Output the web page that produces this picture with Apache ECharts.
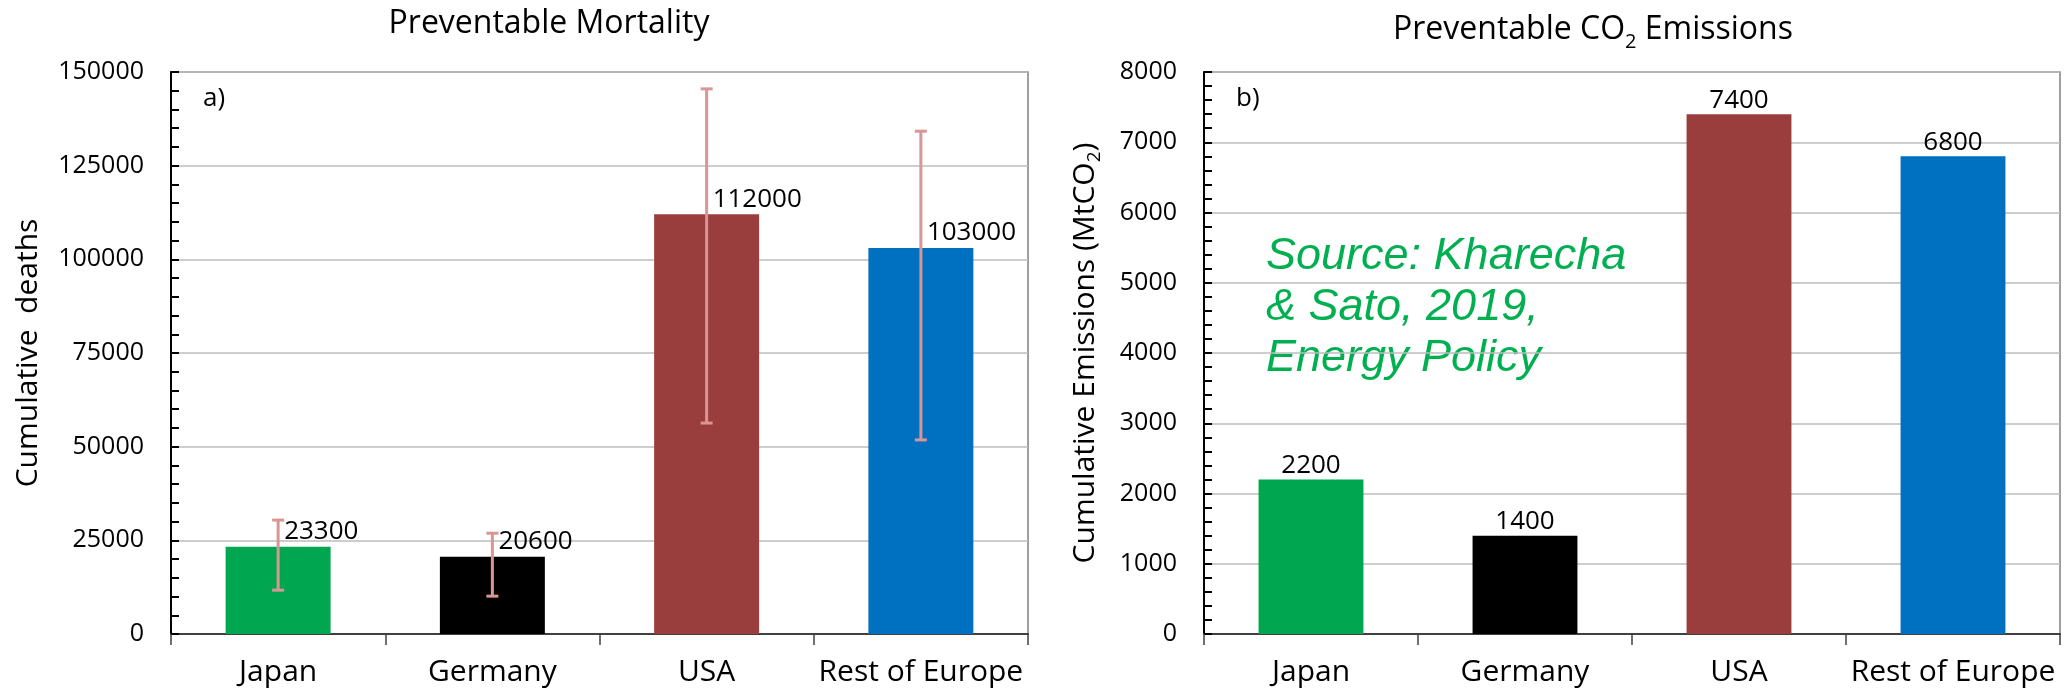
<!DOCTYPE html>
<html>
<head>
<meta charset="utf-8">
<script src="https://cdn.jsdelivr.net/npm/echarts@6/dist/echarts.min.js"></script>
<style>
  html, body { margin: 0; padding: 0; background: #fff; }
  #chart { width: 2066px; height: 693px; }
</style>
</head>
<body>
<div id="chart"></div>
<script>
// data
var categories = ["Japan", "Germany", "USA", "Rest of Europe"];
var mortality = [23300, 20600, 112000, 103000];
var mortalityLow = [11700, 10100, 56300, 51800];
var mortalityHigh = [30400, 26900, 145500, 134200];
var emissions = [2200, 1400, 7400, 6800];
var barColors = ["#00a650", "#000000", "#9a3d3d", "#0070c0"];

var FONT = "Open Sans";

var chart = echarts.init(document.getElementById("chart"));

function errorBar(params, api) {
  var x = api.value(0);
  var lo = api.coord([x, api.value(1)]);
  var hi = api.coord([x, api.value(2)]);
  var cap = 6;
  var style = { stroke: "#d99694", lineWidth: 3 };
  return {
    type: "group",
    children: [
      { type: "line", shape: { x1: lo[0], y1: lo[1], x2: hi[0], y2: hi[1] }, style: style },
      { type: "line", shape: { x1: lo[0] - cap, y1: lo[1], x2: lo[0] + cap, y2: lo[1] }, style: style },
      { type: "line", shape: { x1: hi[0] - cap, y1: hi[1], x2: hi[0] + cap, y2: hi[1] }, style: style }
    ]
  };
}

function yAxisBase(max, interval) {
  return {
    type: "value",
    min: 0,
    max: max,
    interval: interval,
    nameLocation: "middle",
    nameTextStyle: {
      fontFamily: FONT, fontSize: 30, color: "#000",
      rich: { sub: { fontFamily: FONT, fontSize: 19, color: "#000", verticalAlign: "bottom", lineHeight: 38 } }
    },
    axisLine: { show: true, lineStyle: { color: "#000", width: 2 } },
    axisTick: { show: true, inside: true, length: 8, lineStyle: { color: "#000", width: 2 } },
    minorTick: { show: true, splitNumber: 5, length: 8, lineStyle: { color: "#000", width: 2 } },
    splitLine: { show: true, lineStyle: { color: "#bdbdbd", width: 1.5 } },
    axisLabel: {
      fontFamily: FONT, fontSize: 25, color: "#000", margin: 27,
      formatter: function (v) { return String(v); }
    }
  };
}

function xAxisBase(gridIndex) {
  return {
    type: "category",
    gridIndex: gridIndex,
    data: categories,
    boundaryGap: true,
    axisLine: { lineStyle: { color: "#404040", width: 2 } },
    axisTick: { show: true, interval: 0, length: 11, lineStyle: { color: "#404040", width: 1.5 } },
    axisLabel: { interval: 0, fontFamily: FONT, fontSize: 30, color: "#000", margin: 23 }
  };
}

var mortalityData = mortality.map(function (v, i) {
  return { value: v, itemStyle: { color: barColors[i] } };
});
var emissionData = emissions.map(function (v, i) {
  return { value: v, itemStyle: { color: barColors[i] } };
});
var errorData = categories.map(function (c, i) {
  return [i, mortalityLow[i], mortalityHigh[i]];
});

var yLeft = yAxisBase(150000, 25000);
yLeft.gridIndex = 0;
yLeft.name = "Cumulative  deaths";
yLeft.nameGap = 128;

var yRight = yAxisBase(8000, 1000);
yRight.gridIndex = 1;
yRight.name = "Cumulative Emissions (MtCO{sub|2})";
yRight.nameGap = 100;

chart.setOption({
  animation: false,
  title: [
    {
      text: "Preventable Mortality",
      left: 544, top: 3, textAlign: "center",
      textStyle: { fontFamily: FONT, fontSize: 32, fontWeight: "normal", color: "#000" }
    },
    {
      text: "Preventable CO{sub|2} Emissions",
      left: 1588, top: 3, textAlign: "center",
      textStyle: {
        fontFamily: FONT, fontSize: 32, fontWeight: "normal", color: "#000",
        rich: {
          sub: { fontFamily: FONT, fontSize: 20, color: "#000", verticalAlign: "bottom", lineHeight: 44 }
        }
      }
    }
  ],
  grid: [
    { left: 171, right: 1038, top: 72, bottom: 59, show: true, borderColor: "#7f7f7f", borderWidth: 1.5 },
    { left: 1204, right: 6, top: 72, bottom: 59, show: true, borderColor: "#7f7f7f", borderWidth: 1.5 }
  ],
  xAxis: [xAxisBase(0), xAxisBase(1)],
  yAxis: [yLeft, yRight],
  graphic: [
    { type: "text", left: 203, top: 86, style: { text: "a)", font: "26px 'Open Sans'", fill: "#000" } },
    { type: "text", left: 1236, top: 86, style: { text: "b)", font: "26px 'Open Sans'", fill: "#000" } },
    {
      type: "text", left: 1266, top: 231,
      style: {
        text: "Source: Kharecha\n& Sato, 2019,\nEnergy Policy",
        font: "italic 45px 'Liberation Sans'",
        fill: "#00b050",
        lineHeight: 51
      }
    }
  ],
  series: [
    {
      type: "bar",
      xAxisIndex: 0, yAxisIndex: 0,
      barWidth: "49%",
      data: mortalityData,
      label: {
        show: true,
        position: ["50%", 0],
        align: "left",
        verticalAlign: "bottom",
        offset: [6, -2],
        fontFamily: FONT, fontSize: 26, color: "#000"
      },
      z: 2
    },
    {
      type: "custom",
      xAxisIndex: 0, yAxisIndex: 0,
      renderItem: errorBar,
      data: errorData,
      z: 3
    },
    {
      type: "bar",
      xAxisIndex: 1, yAxisIndex: 1,
      barWidth: "49%",
      data: emissionData,
      label: {
        show: true,
        position: "top",
        distance: 1,
        fontFamily: FONT, fontSize: 26, color: "#000"
      }
    }
  ]
});

window.onresize = function () {
  chart.resize();
};
</script>
</body>
</html>
